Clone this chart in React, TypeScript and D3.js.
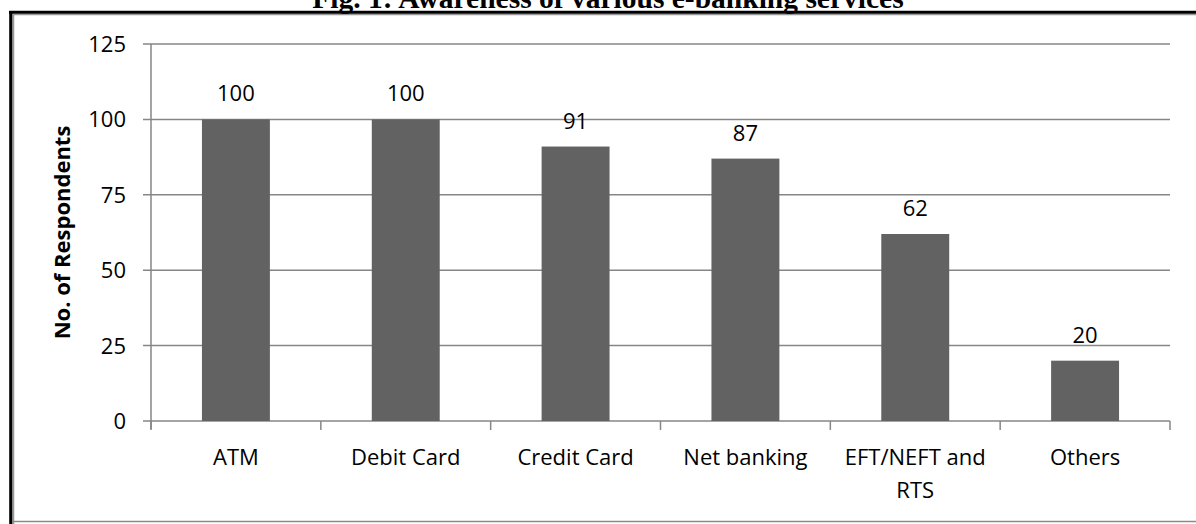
import React from "react";
import * as d3 from "d3";

const categories: string[][] = [["ATM"], ["Debit Card"], ["Credit Card"], ["Net banking"], ["EFT/NEFT and", "RTS"], ["Others"]];
const values: number[] = [100, 100, 91, 87, 62, 20];
const yTicks: number[] = [0, 25, 50, 75, 100, 125];
const title = "Fig. 1: Awareness of various e-banking services";
const yTitle = "No. of Respondents";

const W = 1196;
const H = 524;
const left = 151;
const right = 1170;
const top = 44;
const bottom = 421;
const FONT = "'Open Sans', sans-serif";

export default function App() {
  const keys = categories.map((c) => c.join(" "));
  const x = d3.scaleBand<string>().domain(keys).range([left, right]).paddingInner(0.6).paddingOuter(0.3);
  const y = d3.scaleLinear().domain([0, 125]).range([bottom, top]);
  const step = (right - left) / categories.length;
  const boundaries = d3.range(categories.length + 1).map((i) => left + i * step);
  const grid = "#868686";

  return (
    <svg width={W} height={H} style={{ position: "fixed", left: 0, top: 0, display: "block", background: "#fff" }}>
      <text x={608} y={8} textAnchor="middle" fontFamily="'Liberation Serif', 'Times New Roman', serif" fontWeight="bold" fontSize={29.5} fill="#000">
        {title}
      </text>
      {/* frame */}
      <line x1={13} x2={W} y1={14.5} y2={14.5} stroke="#999" strokeWidth={1.5} />
      <line x1={13.5} x2={13.5} y1={14} y2={H} stroke="#999" strokeWidth={1.5} />
      <line x1={9} x2={W} y1={12.3} y2={12.3} stroke="#000" strokeWidth={3} />
      <line x1={10.8} x2={10.8} y1={11} y2={H} stroke="#000" strokeWidth={3.2} />
      <line x1={12} x2={W} y1={521.5} y2={521.5} stroke="#8a8a8a" strokeWidth={1.5} />

      {/* gridlines and y ticks */}
      {yTicks.map((t) => (
        <g key={t}>
          <line x1={left - 8} x2={right} y1={y(t)} y2={y(t)} stroke={grid} strokeWidth={1.5} />
          <text x={126} y={y(t)} dy="0.36em" textAnchor="end" fontFamily={FONT} fontSize={22} fill="#000">
            {t}
          </text>
        </g>
      ))}
      <line x1={left} x2={left} y1={top} y2={bottom + 8} stroke={grid} strokeWidth={1.5} />
      {boundaries.map((b, i) => (
        <line key={i} x1={b} x2={b} y1={bottom} y2={bottom + 9} stroke={grid} strokeWidth={1.5} />
      ))}

      {/* bars */}
      {values.map((v, i) => (
        <rect key={i} x={x(keys[i])} y={y(v)} width={x.bandwidth()} height={y(0) - y(v)} fill="#626262" />
      ))}
      {values.map((v, i) => (
        <text key={"l" + i} x={(x(keys[i]) as number) + x.bandwidth() / 2} y={y(v) - 18} textAnchor="middle" fontFamily={FONT} fontSize={22} fill="#000">
          {v}
        </text>
      ))}

      {/* category labels */}
      {categories.map((c, i) => (
        <text key={"c" + i} textAnchor="middle" fontFamily={FONT} fontSize={22} fill="#000">
          {c.map((line, j) => (
            <tspan key={j} x={(x(keys[i]) as number) + x.bandwidth() / 2} y={465 + j * 33}>
              {line}
            </tspan>
          ))}
        </text>
      ))}

      <text transform="translate(70,232.5) rotate(-90)" textAnchor="middle" fontFamily={FONT} fontWeight="bold" fontSize={22} fill="#000">
        {yTitle}
      </text>
    </svg>
  );
}
